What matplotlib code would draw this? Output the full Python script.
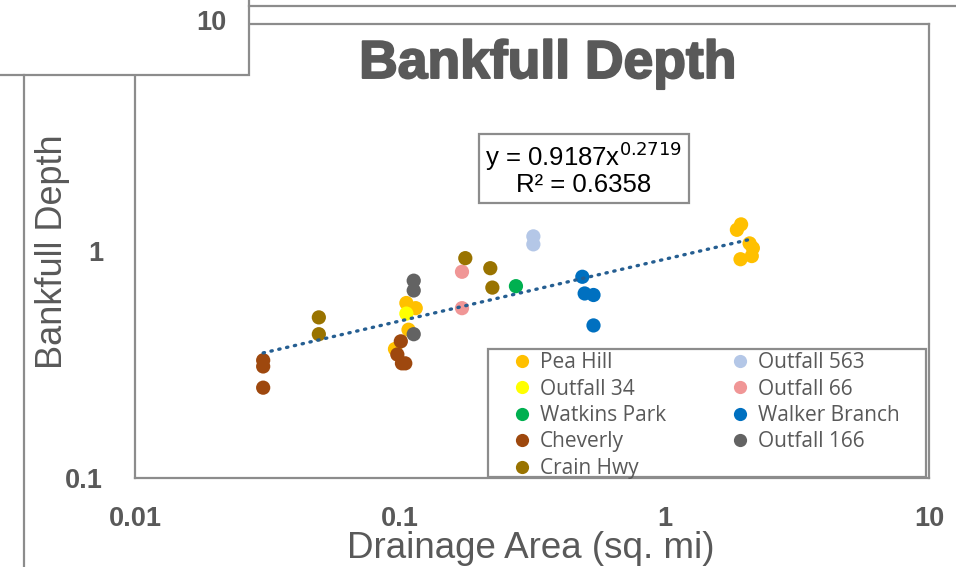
import matplotlib.pyplot as plt
import matplotlib.patheffects as pe
from matplotlib.lines import Line2D
from matplotlib.patches import Rectangle
from matplotlib.transforms import Affine2D
import numpy as np

# drainage area (sq. mi) and bankfull depth (ft) by site
pea_hill_area = [0.106, 0.115, 0.108, 0.096, 1.95, 1.88, 2.10, 2.16, 2.14, 1.94]
pea_hill_depth = [0.59, 0.56, 0.45, 0.37, 1.31, 1.24, 1.08, 1.03, 0.95, 0.92]
outfall563_area = [0.32, 0.32]
outfall563_depth = [1.16, 1.07]
outfall34_area = [0.106]
outfall34_depth = [0.53]
outfall66_area = [0.172, 0.172]
outfall66_depth = [0.81, 0.56]
watkins_area = [0.275]
watkins_depth = [0.70]
walker_area = [0.49, 0.50, 0.54, 0.54]
walker_depth = [0.77, 0.65, 0.64, 0.47]
cheverly_area = [0.0305, 0.0305, 0.0305, 0.101, 0.098, 0.102, 0.105]
cheverly_depth = [0.33, 0.31, 0.25, 0.40, 0.35, 0.32, 0.32]
outfall166_area = [0.113, 0.113, 0.113]
outfall166_depth = [0.74, 0.67, 0.43]
crain_area = [0.0495, 0.0495, 0.177, 0.22, 0.224]
crain_depth = [0.51, 0.43, 0.93, 0.84, 0.69]

series = [
    ("Pea Hill", pea_hill_area, pea_hill_depth, "#FFC000"),
    ("Outfall 563", outfall563_area, outfall563_depth, "#B4C7E7"),
    ("Outfall 34", outfall34_area, outfall34_depth, "#FFFF00"),
    ("Outfall 66", outfall66_area, outfall66_depth, "#F09696"),
    ("Watkins Park", watkins_area, watkins_depth, "#00B050"),
    ("Walker Branch", walker_area, walker_depth, "#0070C0"),
    ("Cheverly", cheverly_area, cheverly_depth, "#9E480E"),
    ("Outfall 166", outfall166_area, outfall166_depth, "#636363"),
    ("Crain Hwy", crain_area, crain_depth, "#997300"),
]

x_ticks = [0.01, 0.1, 1, 10]
x_tick_labels = ["0.01", "0.1", "1", "10"]
y_ticks = [0.1, 1, 10]
y_tick_labels = ["0.1", "1", ""]   # "10" sits inside the corner panel

# power-law fit reported for the combined data
fit_a = 0.9187
fit_b = 0.2719
fit_r2 = 0.6358

W, H = 956, 567
grey = "#595959"
line_grey = "#8C8C8C"

fig = plt.figure(figsize=(W / 100, H / 100), dpi=100)
fig.patch.set_facecolor("white")


# pixel coordinates measured from the top-left corner
def fx(x):
    return x / W


def fy(y):
    return 1 - y / H


def box(x0, y0, x1, y1):
    return Rectangle((fx(x0), fy(y1)), (x1 - x0) / W, (y1 - y0) / H,
                     transform=fig.transFigure, facecolor="none",
                     edgecolor=line_grey, linewidth=1.6)


left, right, top, bottom = 135, 929, 24, 478
ax = fig.add_axes([fx(left), fy(bottom), (right - left) / W, (bottom - top) / H])
ax.set_xscale("log")
ax.set_yscale("log")
ax.set_xlim(0.01, 10)
ax.set_ylim(0.1, 10)

handles = {}
for name, xs, ys, color in series:
    ax.scatter(xs, ys, s=105, color=color, edgecolors="none", zorder=3)
    handles[name] = Line2D([], [], marker="o", linestyle="none", markersize=9.5,
                           markerfacecolor=color, markeredgecolor="none", label=name)

# trendline across the range of the data
all_x = np.concatenate([s[1] for s in series])
xt = np.logspace(np.log10(all_x.min()), np.log10(all_x.max()), 200)
ax.plot(xt, fit_a * xt ** fit_b, linestyle=(0, (0.4, 2.0)), color="#255E91",
        linewidth=2.4, dash_capstyle="round", zorder=4)

for s in ax.spines.values():
    s.set_color(line_grey)
    s.set_linewidth(1.6)

ax.tick_params(which="both", length=0)
ax.xaxis.set_major_locator(plt.FixedLocator(x_ticks))
ax.yaxis.set_major_locator(plt.FixedLocator(y_ticks))
ax.xaxis.set_minor_locator(plt.NullLocator())
ax.yaxis.set_minor_locator(plt.NullLocator())
ax.set_xticklabels(x_tick_labels)
ax.set_yticklabels(y_tick_labels)
tick_font = dict(family="Liberation Sans", weight="bold", size=19.5)
for lab in ax.get_xticklabels() + ax.get_yticklabels():
    lab.set_fontproperties(tick_font)
    lab.set_color(grey)
ax.tick_params(axis="x", pad=20)
ax.tick_params(axis="y", pad=23)

# white panel over the top-left corner of the frame
corner = Rectangle((-5, -5), 254, 80, facecolor="white", edgecolor=line_grey,
                   linewidth=1.6, clip_on=False, zorder=3)
corner.set_transform(Affine2D().scale(1, -1).translate(0, H))
ax.add_artist(corner)
fig.text(fx(226), fy(23), "10", ha="right", va="center", color=grey, **tick_font)

# outer frame lines
fig.add_artist(Line2D([fx(249), fx(956)], [fy(6), fy(6)], color=line_grey, linewidth=1.6))
fig.add_artist(Line2D([fx(24), fx(24)], [fy(75), fy(567)], color=line_grey, linewidth=1.6))

fig.text(fx(548), fy(64), "Bankfull Depth", ha="center", va="center",
         family="Liberation Sans", fontweight="bold", fontsize=38.5, color=grey,
         path_effects=[pe.withStroke(linewidth=1.4, foreground=grey)])

fig.text(fx(53), fy(252), "Bankfull Depth", rotation=90, ha="center", va="center",
         family="Liberation Sans", fontsize=26, color=grey)
fig.text(fx(531), fy(549), "Drainage Area (sq. mi)", ha="center", va="center",
         family="Liberation Sans", fontsize=26.5, color=grey)

fig.text(fx(584), fy(156), f"y = {fit_a}x$^{{{fit_b}}}$", ha="center", va="center",
         family="Liberation Sans", fontsize=18.5, color="black")
fig.text(fx(584), fy(185), f"R² = {fit_r2}", ha="center", va="center",
         family="Liberation Sans", fontsize=18.5, color="black")
fig.add_artist(box(479, 134, 689, 203))

order = ["Pea Hill", "Outfall 34", "Watkins Park", "Cheverly", "Crain Hwy",
         "Outfall 563", "Outfall 66", "Walker Branch", "Outfall 166"]
leg = ax.legend([handles[n] for n in order], order, ncol=2,
                loc="upper left", bbox_to_anchor=(fx(488), fy(348)),
                bbox_transform=fig.transFigure, frameon=False,
                prop={"family": "Open Sans", "size": 15},
                labelspacing=0.26, columnspacing=2.1, handletextpad=-0.6,
                handlelength=2.9, borderpad=0.2, borderaxespad=0)
for t in leg.get_texts():
    t.set_color(grey)
leg.set_zorder(6)
# legend frame drawn separately so it can span the full panel width
legend_box = box(488, 349, 926, 477)
legend_box.set_facecolor("white")
legend_box.set_clip_on(False)
legend_box.set_zorder(5)
ax.add_artist(legend_box)

fig.savefig("out.png", dpi=100)
